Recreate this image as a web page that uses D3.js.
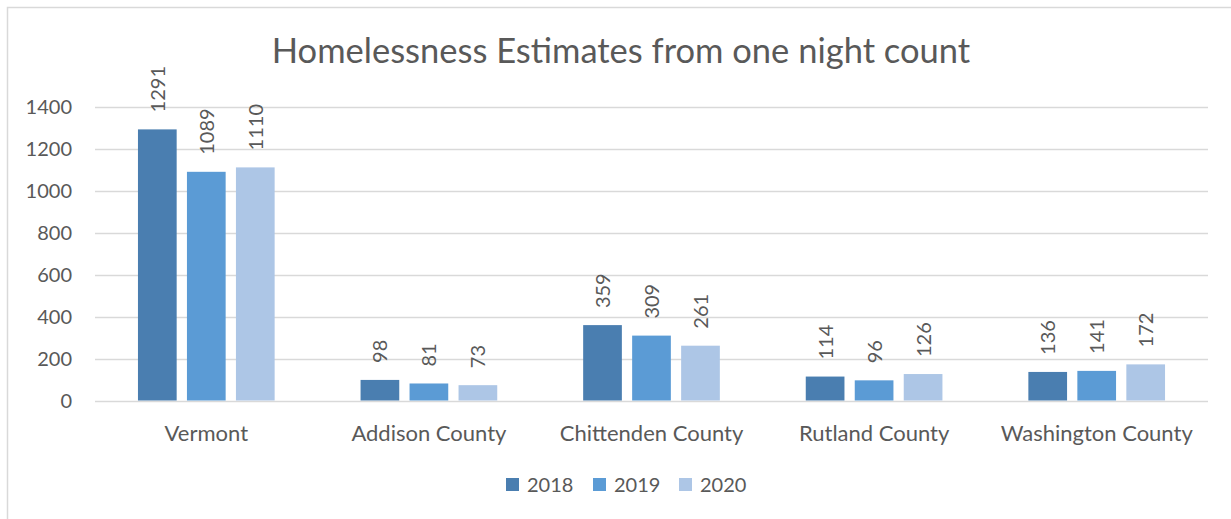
<!DOCTYPE html>
<html>
<head>
<meta charset="utf-8">
<script src="https://cdn.jsdelivr.net/npm/d3@7"></script>
<style>
  body { margin: 0; background: #fff; }
  text { font-family: "Lato", "Open Sans", sans-serif; fill: #595959; }
</style>
</head>
<body>
<script>
// datos
var categories = ["Vermont", "Addison County", "Chittenden County", "Rutland County", "Washington County"];
var years = ["2018", "2019", "2020"];
var values2018 = [1291, 98, 359, 114, 136];
var values2019 = [1089, 81, 309, 96, 141];
var values2020 = [1110, 73, 261, 126, 172];
var yTicks = [0, 200, 400, 600, 800, 1000, 1200, 1400];
var colors = ["#4a7eb0", "#5b9bd5", "#adc6e6"];

var w = 1231, h = 519;
var mLeft = 95, mRight = 1208, mTop = 106.5, mBottom = 400.5;

var series = [values2018, values2019, values2020];

var svg = d3.select("body")
  .append("svg")
    .attr("width", w)
    .attr("height", h);

// marco del grafico
svg.append("rect")
  .attr("x", 7.5).attr("y", 7.5)
  .attr("width", w + 20).attr("height", h + 20)
  .attr("fill", "#fff")
  .attr("stroke", "#d9d9d9")
  .attr("stroke-width", 1.5);

var x0 = d3.scaleBand()
  .domain(categories)
  .range([mLeft, mRight])
  .paddingInner(0.386)
  .paddingOuter(0.193);

var x1 = d3.scaleBand()
  .domain(years)
  .range([0, x0.bandwidth()])
  .paddingInner(0.21);

var y = d3.scaleLinear()
  .domain([0, 1400])
  .range([mBottom, mTop]);

// lineas de la rejilla
svg.append("g")
  .selectAll("line")
  .data(yTicks)
  .enter()
    .append("line")
    .attr("x1", mLeft).attr("x2", mRight)
    .attr("y1", function(d) { return Math.round(y(d)) + 0.5; })
    .attr("y2", function(d) { return Math.round(y(d)) + 0.5; })
    .attr("stroke", "#d9d9d9")
    .attr("stroke-width", 1.5);

// eje Y
var yAxis = svg.append("g")
  .attr("transform", "translate(" + (mLeft - 23) + ",0)")
  .call(d3.axisLeft(y).tickValues(yTicks).tickFormat(d3.format("d")).tickSize(0).tickPadding(0));
yAxis.select(".domain").remove();
yAxis.selectAll("text")
  .attr("font-size", 20)
  .attr("dy", "0.36em")
  .style("font-family", "Lato, sans-serif")
  .attr("fill", "#595959");

// eje X
var xAxis = svg.append("g")
  .attr("transform", "translate(0," + mBottom + ")")
  .call(d3.axisBottom(x0).tickSize(0).tickPadding(0));
xAxis.select(".domain").remove();
xAxis.selectAll("text")
  .attr("font-size", 22)
  .attr("y", 40)
  .attr("dy", 0)
  .style("font-family", "Lato, sans-serif")
  .attr("fill", "#595959");

// barras
var groups = svg.append("g")
  .selectAll("g")
  .data(categories)
  .enter()
    .append("g")
    .attr("transform", function(d) { return "translate(" + x0(d) + ",0)"; });

groups.selectAll("rect")
  .data(function(d, i) {
    return years.map(function(yr, j) { return { year: yr, value: series[j][i], k: j }; });
  })
  .enter()
    .append("rect")
    .attr("x", function(d) { return x1(d.year); })
    .attr("y", function(d) { return y(d.value); })
    .attr("width", x1.bandwidth())
    .attr("height", function(d) { return mBottom - y(d.value); })
    .attr("fill", function(d) { return colors[d.k]; });

// etiquetas de valores (giradas)
groups.selectAll("text.val")
  .data(function(d, i) {
    return years.map(function(yr, j) { return { year: yr, value: series[j][i] }; });
  })
  .enter()
    .append("text")
    .attr("class", "val")
    .attr("font-size", 20)
    .attr("transform", function(d) {
      var cx = x1(d.year) + x1.bandwidth() / 2 + 7.5;
      return "translate(" + cx + "," + (y(d.value) - 17) + ") rotate(-90)";
    })
    .text(function(d) { return d.value; });

// titulo
svg.append("text")
  .attr("x", 621)
  .attr("y", 63)
  .attr("text-anchor", "middle")
  .attr("font-size", 34.5)
  .text("Homelessness Estimates from one night count");

// leyenda
var legendX = [506, 593, 679];
var legend = svg.append("g")
  .selectAll("g")
  .data(years)
  .enter()
    .append("g")
    .attr("transform", function(d, i) { return "translate(" + legendX[i] + ",478)"; });
legend.append("rect")
  .attr("width", 13).attr("height", 13)
  .attr("fill", function(d, i) { return colors[i]; });
legend.append("text")
  .attr("x", 21)
  .attr("y", 14)
  .attr("font-size", 20)
  .text(function(d) { return d; });
</script>
</body>
</html>
